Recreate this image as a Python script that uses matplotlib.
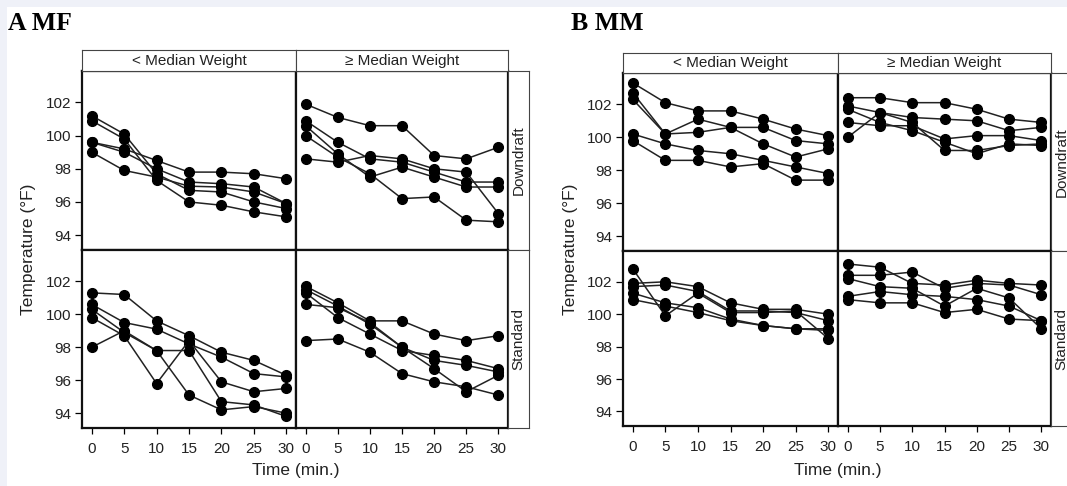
import matplotlib.pyplot as plt
from matplotlib.patches import Rectangle

plt.rcParams["font.family"] = ["Liberation Sans", "DejaVu Sans"]

W, H = 1067, 486

time_min = [0, 5, 10, 15, 20, 25, 30]
col_labels = ["< Median Weight", "\u2265 Median Weight"]
row_labels = ["Downdraft", "Standard"]
y_ticks = [94, 96, 98, 100, 102]

# A MF, downdraft, < median weight
mf_down_lo = [
    [101.2, 100.1, 97.7, 96.7, 96.6, 96.0, 95.6],
    [100.9, 99.8, 97.3, 96.0, 95.8, 95.4, 95.1],
    [99.6, 99.2, 98.5, 97.8, 97.8, 97.7, 97.4],
    [99.6, 99.0, 98.0, 97.2, 97.1, 96.9, 95.9],
    [99.0, 97.9, 97.5, 96.95, 96.9, 96.6, 95.9],
]
# A MF, downdraft, >= median weight
mf_down_hi = [
    [101.9, 101.1, 100.6, 100.6, 98.8, 98.6, 99.3],
    [100.9, 99.6, 98.6, 98.4, 97.8, 97.2, 97.2],
    [100.6, 98.9, 97.5, 98.1, 97.5, 96.9, 96.9],
    [100.0, 98.7, 97.7, 96.2, 96.3, 94.9, 94.8],
    [98.6, 98.4, 98.8, 98.6, 98.0, 97.8, 95.3],
]
# A MF, standard, < median weight
mf_std_lo = [
    [101.3, 101.2, 99.6, 98.7, 97.7, 97.2, 96.3],
    [100.6, 99.5, 99.1, 98.2, 97.4, 96.4, 96.2],
    [100.3, 98.9, 97.8, 97.8, 94.7, 94.5, 93.8],
    [99.8, 98.7, 95.8, 98.4, 95.9, 95.3, 95.5],
    [98.0, 99.0, 97.8, 95.1, 94.2, 94.4, 94.0],
]
# A MF, standard, >= median weight
mf_std_hi = [
    [101.7, 100.7, 99.6, 99.6, 98.8, 98.4, 98.7],
    [101.5, 100.5, 99.4, 98.0, 97.2, 96.9, 96.5],
    [101.3, 99.8, 98.8, 97.8, 97.5, 97.2, 96.7],
    [100.6, 100.4, 99.5, 98.0, 96.7, 95.3, 96.3],
    [98.4, 98.5, 97.7, 96.4, 95.9, 95.6, 95.1],
]
# B MM, downdraft, < median weight
mm_down_lo = [
    [103.3, 102.1, 101.6, 101.6, 101.1, 100.5, 100.1],
    [102.7, 100.2, 101.1, 100.6, 99.6, 98.8, 99.3],
    [102.3, 100.2, 100.3, 100.6, 100.6, 99.8, 99.6],
    [100.2, 99.6, 99.2, 99.0, 98.6, 98.2, 97.8],
    [99.8, 98.6, 98.6, 98.2, 98.4, 97.4, 97.4],
]
# B MM, downdraft, >= median weight
mm_down_hi = [
    [102.4, 102.4, 102.1, 102.1, 101.7, 101.1, 100.9],
    [101.9, 101.5, 101.2, 101.1, 101.0, 100.4, 100.6],
    [101.7, 100.9, 100.4, 99.7, 99.0, 99.6, 99.5],
    [100.9, 100.7, 100.7, 99.9, 100.1, 100.1, 99.8],
    [100.0, 101.5, 100.9, 99.2, 99.2, 99.5, 99.6],
]
# B MM, standard, < median weight
mm_std_lo = [
    [101.9, 102.0, 101.7, 100.7, 100.3, 100.3, 100.0],
    [101.7, 101.8, 101.4, 100.2, 100.2, 100.1, 99.6],
    [102.8, 99.9, 101.3, 100.1, 100.1, 100.2, 98.5],
    [101.3, 100.7, 100.4, 99.7, 99.3, 99.1, 99.1],
    [100.9, 100.5, 100.1, 99.6, 99.3, 99.1, 99.0],
]
# B MM, standard, >= median weight
mm_std_hi = [
    [103.1, 102.9, 101.9, 101.8, 102.1, 101.9, 101.8],
    [102.4, 102.4, 102.6, 101.6, 101.9, 101.8, 101.2],
    [102.2, 101.7, 101.6, 100.5, 101.6, 101.0, 99.1],
    [101.1, 101.4, 101.2, 101.1, 100.9, 100.5, 99.6],
    [100.9, 100.7, 100.7, 100.1, 100.3, 99.7, 99.6],
]


def px_axes(fig, x0, y0, x1, y1):
    # pixel box (top-left origin) -> figure fraction
    return fig.add_axes([x0 / W, 1 - y1 / H, (x1 - x0) / W, (y1 - y0) / H])


def strip(fig, x0, y0, x1, y1, text, rot=0):
    ax = px_axes(fig, x0, y0, x1, y1)
    ax.set_xticks([])
    ax.set_yticks([])
    for s in ax.spines.values():
        s.set_linewidth(0.8)
        s.set_color("#444444")
    ax.text(0.5, 0.5, text, rotation=rot, ha="center", va="center",
            fontsize=11, color="#222222", transform=ax.transAxes)
    return ax


def draw_block(fig, cols, rows, strip_top, right_strip, panels, title, title_x):
    for r in range(2):
        for c in range(2):
            ax = px_axes(fig, cols[c], rows[r], cols[c + 1], rows[r + 1])
            for series in panels[r][c]:
                ax.plot(time_min, series, color="#222222", lw=1.1,
                        marker="o", ms=7, mfc="black", mec="black")
            ax.set_xlim(-1.5, 31.5)
            ax.set_ylim(93.1, 103.9)
            for s in ax.spines.values():
                s.set_linewidth(1.6)
                s.set_color("#111111")
            ax.tick_params(axis="x", length=4, width=0.9, pad=6, labelsize=11,
                           labelcolor="#222222")
            ax.tick_params(axis="y", length=5, width=0.9, pad=3, labelsize=11,
                           labelcolor="#222222")
            ax.set_xticks(time_min)
            ax.set_yticks(y_ticks)
            if r == 0:
                ax.tick_params(axis="x", bottom=False, labelbottom=False)
            if c == 1:
                ax.tick_params(axis="y", left=False, labelleft=False)
        strip(fig, cols[r], strip_top, cols[r + 1], rows[0], col_labels[r])
        strip(fig, cols[2], rows[r], right_strip, rows[r + 1], row_labels[r], rot=90)

    fig.text(title_x / W, 1 - 30 / H, title, fontsize=18.5, fontweight="bold",
             family="Liberation Serif", ha="left", va="baseline")
    fig.text((cols[0] - 53) / W, 1 - (rows[0] + rows[2]) / 2 / H,
             "Temperature (\u00b0F)", rotation=90, fontsize=12.5,
             color="#222222", ha="center", va="center")
    fig.text(cols[1] / W, 1 - 470 / H, "Time (min.)", fontsize=12.5,
             color="#222222", ha="center", va="center")


fig = plt.figure(figsize=(W / 100, H / 100), dpi=100, facecolor="white")

# light frame band on the top and left edges
fig.patches.append(Rectangle((0, 1 - 7 / H), 1, 7 / H, transform=fig.transFigure,
                             facecolor="#eff1f8", edgecolor="none", zorder=-5))
fig.patches.append(Rectangle((0, 0), 7 / W, 1, transform=fig.transFigure,
                             facecolor="#eff1f8", edgecolor="none", zorder=-5))

draw_block(fig, [82, 296, 508], [71, 250, 428], 50, 529,
           [[mf_down_lo, mf_down_hi], [mf_std_lo, mf_std_hi]], "A MF", 8)
draw_block(fig, [623, 838, 1051], [73, 251, 426], 53, 1072,
           [[mm_down_lo, mm_down_hi], [mm_std_lo, mm_std_hi]], "B MM", 571)

fig.savefig("out.png", dpi=100, facecolor="white")
